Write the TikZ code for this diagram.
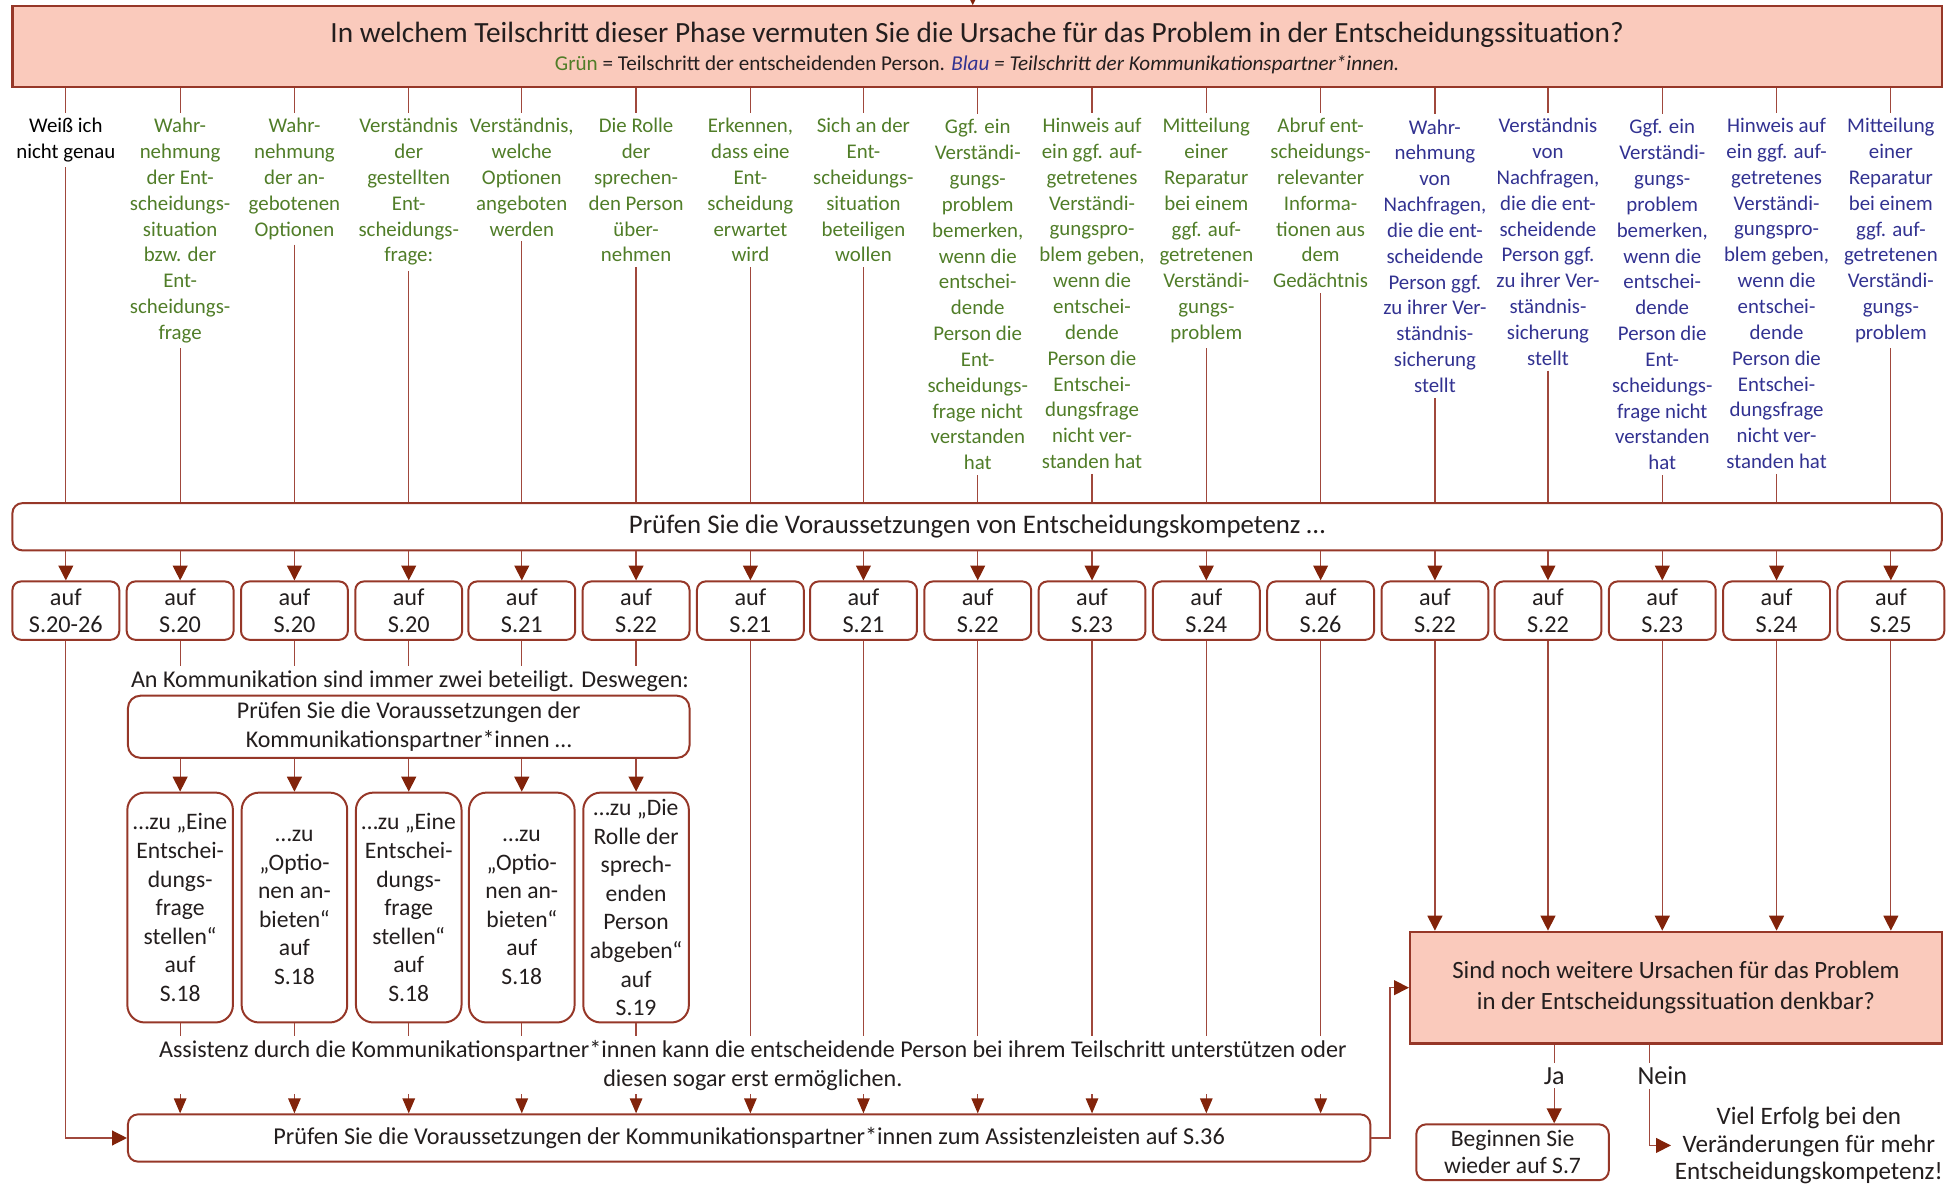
\documentclass[tikz,border=0pt]{standalone}
\usepackage{fontspec}
\setmainfont{Carlito}
\usetikzlibrary{arrows.meta}
\definecolor{bord}{RGB}{150,55,40}
\definecolor{lnc}{RGB}{160,72,60}
\definecolor{arrc}{RGB}{130,35,10}
\definecolor{salm}{RGB}{250,202,188}
\definecolor{tgreen}{RGB}{80,125,40}
\definecolor{tblue}{RGB}{50,50,145}
\definecolor{titc}{RGB}{35,30,30}
\tikzset{
  ln/.style={draw=lnc, line width=1pt},
  arr/.style={ln, -{Triangle[width=12pt,length=12pt,color=arrc]}},
  sarr/.style={ln, -{Triangle[width=10pt,length=12pt,color=arrc]}},
  rbox/.style={draw=bord, line width=1.6pt, rounded corners=8pt, fill=white, align=center, inner sep=0pt, text=titc},
  abox/.style={rbox, rounded corners=7pt, minimum width=86pt, minimum height=47pt, font=\fontsize{19.5}{22}\selectfont},
  sbox/.style={rbox, rounded corners=14pt, minimum width=85pt, minimum height=185pt, font=\fontsize{19}{23}\selectfont},
  pink/.style={draw=bord, line width=1.8pt, fill=salm, align=center, inner sep=0pt, text=titc},
  lab/.style={anchor=north, align=center, font=\fontsize{16.8}{20.8}\selectfont, inner sep=4pt},
  blk/.style={lab, text=black},
  grn/.style={lab, text=tgreen},
  blu/.style={lab, text=tblue},
  txt/.style={align=center, font=\fontsize{19.4}{23}\selectfont, text=titc, inner sep=3pt},
}
\begin{document}
\begin{tikzpicture}[x=1pt,y=-1pt]
\useasboundingbox (0,0) rectangle (1568,955);
% title box
\node[pink, minimum width=1553pt, minimum height=65pt] (top) at (786.5,37.5) {};
\node[font=\fontsize{23.6}{28}\selectfont, text=titc, inner sep=0pt] (tt) at (786.5,28) {In welchem Teilschritt dieser Phase vermuten Sie die Ursache für das Problem in der Entscheidungssituation?};
\node[font=\fontsize{17}{20}\selectfont, text=titc, inner sep=0pt] (st) at (786.5,52) {\textcolor{tgreen}{Grün} = Teilschritt der entscheidenden Person. {\itshape\textcolor{tblue}{Blau} = Teilschritt der Kommunikationspartner*innen.}};
\coordinate (in) at (783,-12);
\draw[arr] (in) -- (in |- top.north);

% column labels
\node[blk] (c0) at (53,91) {Weiß ich\\nicht genau};
\node[grn] (c1) at (145,91) {Wahr-\\nehmung\\der Ent-\\scheidungs-\\situation\\bzw. der\\Ent-\\scheidungs-\\frage};
\node[grn] (c2) at (237,91) {Wahr-\\nehmung\\der an-\\gebotenen\\Optionen};
\node[grn] (c3) at (329,91) {Verständnis\\der\\gestellten\\Ent-\\scheidungs-\\frage:};
\node[grn] (c4) at (420,91) {Verständnis,\\welche\\Optionen\\angeboten\\werden};
\node[grn] (c5) at (512,91) {Die Rolle\\der\\sprechen-\\den Person\\über-\\nehmen};
\node[grn] (c6) at (604,91) {Erkennen,\\dass eine\\Ent-\\scheidung\\erwartet\\wird};
\node[grn] (c7) at (695,91) {Sich an der\\Ent-\\scheidungs-\\situation\\beteiligen\\wollen};
\node[grn] (c8) at (787,92) {Ggf. ein\\Verständi-\\gungs-\\problem\\bemerken,\\wenn die\\entschei-\\dende\\Person die\\Ent-\\scheidungs-\\frage nicht\\verstanden\\hat};
\node[grn] (c9) at (879,91) {Hinweis auf\\ein ggf. auf-\\getretenes\\Verständi-\\gungspro-\\blem geben,\\wenn die\\entschei-\\dende\\Person die\\Entschei-\\dungsfrage\\nicht ver-\\standen hat};
\node[grn] (c10) at (971,91) {Mitteilung\\einer\\Reparatur\\bei einem\\ggf. auf-\\getretenen\\Verständi-\\gungs-\\problem};
\node[grn] (c11) at (1063,91) {Abruf ent-\\scheidungs-\\relevanter\\Informa-\\tionen aus\\dem\\Gedächtnis};
\node[blu] (c12) at (1155,92) {Wahr-\\nehmung\\von\\Nachfragen,\\die die ent-\\scheidende\\Person ggf.\\zu ihrer Ver-\\ständnis-\\sicherung\\stellt};
\node[blu] (c13) at (1246,91) {Verständnis\\von\\Nachfragen,\\die die ent-\\scheidende\\Person ggf.\\zu ihrer Ver-\\ständnis-\\sicherung\\stellt};
\node[blu] (c14) at (1338,92) {Ggf. ein\\Verständi-\\gungs-\\problem\\bemerken,\\wenn die\\entschei-\\dende\\Person die\\Ent-\\scheidungs-\\frage nicht\\verstanden\\hat};
\node[blu] (c15) at (1430,91) {Hinweis auf\\ein ggf. auf-\\getretenes\\Verständi-\\gungspro-\\blem geben,\\wenn die\\entschei-\\dende\\Person die\\Entschei-\\dungsfrage\\nicht ver-\\standen hat};
\node[blu] (c16) at (1522,91) {Mitteilung\\einer\\Reparatur\\bei einem\\ggf. auf-\\getretenen\\Verständi-\\gungs-\\problem};

% Pruefen box
\node[rbox, minimum width=1553pt, minimum height=38pt, font=\fontsize{21.6}{25}\selectfont] (pv) at (786.5,424) {Prüfen Sie die Voraussetzungen von Entscheidungskompetenz …};

\foreach \i in {0,...,16} {
  \draw[ln] (c\i.north |- top.south) -- (c\i.north);
  \draw[ln] (c\i.south) -- (c\i.south |- pv.north);
}

% auf boxes
\foreach \i/\x/\t in {0/53/20-26,1/145/20,2/237/20,3/329/20,4/420/21,5/512/22,6/604/21,7/695/21,8/787/22,9/879/23,10/971/24,11/1063/26,12/1155/22,13/1246/22,14/1338/23,15/1430/24,16/1522/25} {
  \node[abox] (a\i) at (\x,491.5) {auf\\S.\t};
  \draw[arr] (a\i.north |- pv.south) -- (a\i.north);
}

% communication partner part
\node[txt] (kt) at (330,548) {An Kommunikation sind immer zwei beteiligt. Deswegen:};
\node[rbox, rounded corners=10pt, minimum width=452pt, minimum height=50pt, font=\fontsize{19.3}{23}\selectfont] (kb) at (329,585) {Prüfen Sie die Voraussetzungen der\\Kommunikationspartner*innen …};
\foreach \i in {1,...,5} {
  \draw[ln] (a\i.south) -- (a\i.south |- kt.north);
}

\node[sbox] (s1) at (145,730.5) {…zu „Eine\\Entschei-\\dungs-\\frage\\stellen“\\auf\\S.18};
\node[sbox] (s2) at (237,730.5) {…zu\\„Optio-\\nen an-\\bieten“\\auf\\S.18};
\node[sbox] (s3) at (329,730.5) {…zu „Eine\\Entschei-\\dungs-\\frage\\stellen“\\auf\\S.18};
\node[sbox] (s4) at (420,730.5) {…zu\\„Optio-\\nen an-\\bieten“\\auf\\S.18};
\node[sbox] (s5) at (512,730.5) {…zu „Die\\Rolle der\\sprech-\\enden\\Person\\abgeben“\\auf\\S.19};

\foreach \i in {1,...,5} {
  \draw[arr] (s\i.north |- kb.south) -- (s\i.north);
}

\node[txt] (at) at (606,857.5) {Assistenz durch die Kommunikationspartner*innen kann die entscheidende Person bei ihrem Teilschritt unterstützen oder\\diesen sogar erst ermöglichen.};
\foreach \i in {1,...,5} {
  \draw[ln] (s\i.south) -- (s\i.south |- at.north);
}
\foreach \i in {6,...,11} {
  \draw[ln] (a\i.south) -- (a\i.south |- at.north);
}

\node[rbox, minimum width=1000pt, minimum height=38pt, font=\fontsize{19.5}{22}\selectfont] (bb) at (603,916) {Prüfen Sie die Voraussetzungen der Kommunikationspartner*innen zum Assistenzleisten auf S.36};
\foreach \i in {1,...,11} {
  \draw[sarr] (a\i.south |- at.south) -- (a\i.south |- bb.north);
}
\draw[arr] (a0.south) |- (bb.west);

% question box
\node[pink, minimum width=428pt, minimum height=90pt, font=\fontsize{20}{25}\selectfont] (sind) at (1349,795) {Sind noch weitere Ursachen für das Problem\\in der Entscheidungssituation denkbar?};
\draw[arr] (bb.east) -- ++(15,0) |- (sind.west);
\foreach \i in {12,...,16} {
  \draw[arr] (a\i.south) -- (a\i.south |- sind.north);
}

% Ja / Nein
\node[txt, font=\fontsize{21}{24}\selectfont] (ja) at (1251,866) {Ja};
\node[rbox, minimum width=155pt, minimum height=45pt, font=\fontsize{19}{22}\selectfont] (bs) at (1217.5,927.5) {Beginnen Sie\\wieder auf S.7};
\draw[ln] (ja.north |- sind.south) -- (ja.north);
\draw[arr] (ja.south) -- (ja.south |- bs.north);

\node[txt, font=\fontsize{21}{24}\selectfont] (nein) at (1338,866) {Nein};
\node[txt, font=\fontsize{20.2}{22.5}\selectfont] (vt) at (1456,922) {Viel Erfolg bei den\\Veränderungen für mehr\\Entscheidungskompetenz!};
\coordinate (nx) at (1328,0);
\draw[ln] (sind.south -| nx) -- (nein.north -| nx);
\draw[arr] (nein.south -| nx) |- (vt.west);
\end{tikzpicture}
\end{document}
